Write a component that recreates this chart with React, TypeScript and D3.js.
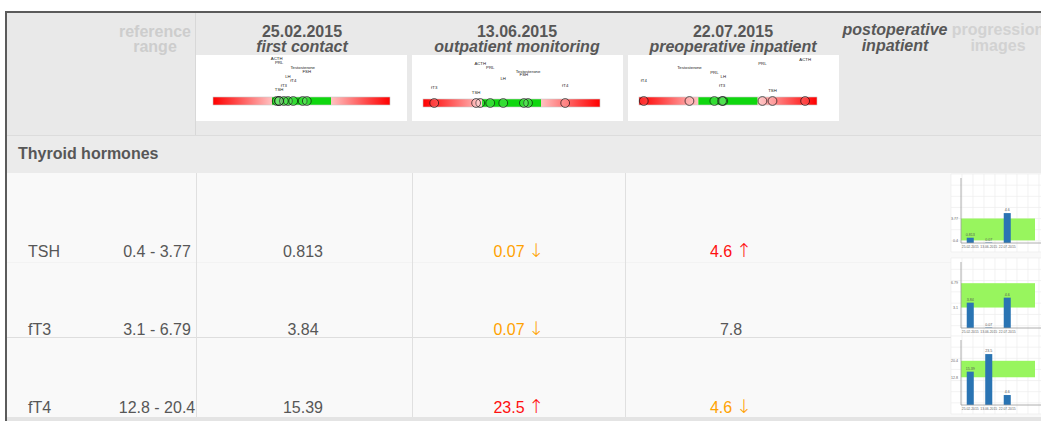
import * as d3 from "d3"

const FONT = "'Liberation Sans', Arial, Helvetica, sans-serif"
const TEXT = "#575757"

// table columns (visits)
const visitDates = ["25.02.2015", "13.06.2015", "22.07.2015", ""]
const visitTitles = [
  "first contact",
  "outpatient monitoring",
  "preoperative inpatient",
  "postoperative",
]

const groupTitle = "Thyroid hormones"
const analytes = ["TSH", "fT3", "fT4"]
const refLow = [0.4, 3.1, 12.8]
const refHigh = [3.77, 6.79, 20.4]
const refText = ["0.4 - 3.77", "3.1 - 6.79", "12.8 - 20.4"]

const resultText = [
  ["0.813", "0.07", "4.6"],
  ["3.84", "0.07", "7.8"],
  ["15.39", "23.5", "4.6"],
]
const resultFlag = [
  ["", "low", "high"],
  ["", "low", ""],
  ["", "high", "low"],
]

// values behind the small bar charts in "progression images"
const progressValues = [
  [0.813, 0.07, 4.6],
  [3.84, 0.07, 4.6],
  [15.39, 23.5, 4.6],
]
const progressMax = [10, 10, 30]

// header overview strips: z = (value - low) / (high - low), level = label row
const overviewFirst = [
  { name: "ACTH", z: 0.08, level: 0 },
  { name: "PRL", z: 0.12, level: 1 },
  { name: "Testosterone", z: 0.52, level: 2 },
  { name: "FSH", z: 0.59, level: 3 },
  { name: "LH", z: 0.27, level: 4 },
  { name: "fT4", z: 0.36, level: 5 },
  { name: "fT3", z: 0.2, level: 6 },
  { name: "TSH", z: 0.12, level: 7 },
]
const overviewSecond = [
  { name: "ACTH", z: -0.03, level: 1.1 },
  { name: "PRL", z: 0.14, level: 2 },
  { name: "Testosterone", z: 0.78, level: 3 },
  { name: "FSH", z: 0.71, level: 3.7 },
  { name: "LH", z: 0.36, level: 4.6 },
  { name: "fT4", z: 1.41, level: 6.1 },
  { name: "fT3", z: -0.81, level: 6.6 },
  { name: "TSH", z: -0.1, level: 7.6 },
]
const overviewThird = [
  { name: "ACTH", z: 1.8, level: 0.2 },
  { name: "PRL", z: 1.08, level: 1.1 },
  { name: "Testosterone", z: -0.15, level: 2 },
  { name: "PRL", z: 0.27, level: 3.1 },
  { name: "LH", z: 0.42, level: 4 },
  { name: "fT4", z: -0.92, level: 5 },
  { name: "fT3", z: 0.4, level: 6.1 },
  { name: "TSH", z: 1.25, level: 7.2 },
]
const overviews = [overviewFirst, overviewSecond, overviewThird]

type Marker = { name: string; z: number; level: number }

function OverviewStrip({
  boxX0,
  boxX1,
  barX0,
  barX1,
  barY,
  markers,
}: {
  boxX0: number
  boxX1: number
  barX0: number
  barX1: number
  barY: number
  markers: Marker[]
}) {
  const z = d3.scaleLinear().domain([-1, 2]).range([barX0, barX1])
  const labelY = d3.scaleLinear().domain([0, 7]).range([60, 91])
  const barH = 8
  const clampZ = (v: number) => Math.max(-0.93, Math.min(1.93, v))
  return (
    <g>
      <rect x={boxX0} y={55} width={boxX1 - boxX0} height={66} fill="#fff" />
      <rect x={z(-1)} y={barY} width={z(0) - z(-1)} height={barH} fill="url(#redLeft)" />
      <rect x={z(0)} y={barY} width={z(1) - z(0)} height={barH} fill="#0fd70f" />
      <rect x={z(1)} y={barY} width={z(2) - z(1)} height={barH} fill="url(#redRight)" />
      <rect
        x={z(-1)}
        y={barY}
        width={z(2) - z(-1)}
        height={barH}
        fill="none"
        stroke="#c9c9c9"
        strokeWidth={0.6}
      />
      {markers.map((m, i) => (
        <text
          key={"t" + i}
          x={z(m.z)}
          y={labelY(m.level)}
          fontSize={4.3}
          textAnchor="middle"
          fill="#222"
          fontFamily={FONT}
        >
          {m.name}
        </text>
      ))}
      {markers.map((m, i) => (
        <circle
          key={"c" + i}
          cx={z(clampZ(m.z))}
          cy={barY + barH / 2}
          r={4.4}
          fill="#fff"
          fillOpacity={0.15}
          stroke="#111"
          strokeOpacity={0.75}
          strokeWidth={0.9}
        />
      ))}
    </g>
  )
}

function Progression({ idx, top, bottom }: { idx: number; top: number; bottom: number }) {
  const x = d3
    .scaleBand<number>()
    .domain(d3.range(visitDates.length))
    .range([961, 1035])
    .paddingInner(0.62)
    .paddingOuter(0.31)
  const y = d3.scaleLinear().domain([0, progressMax[idx]]).range([bottom, top])
  const imgTop = top - 4
  const imgBottom = bottom + 9
  const gx = d3.scaleLinear().domain([0, 9]).range([951, 1050])
  const gy = d3.scaleLinear().domain([0, 7]).range([imgBottom, imgTop])
  const vals = progressValues[idx]
  return (
    <g>
      <rect x={951} y={imgTop} width={100} height={imgBottom - imgTop} fill="#fff" />
      {gx.ticks(9).map((t) => (
        <line key={"gx" + t} x1={gx(t)} x2={gx(t)} y1={imgTop} y2={imgBottom} stroke="#ececec" strokeWidth={0.7} />
      ))}
      {gy.ticks(7).map((t) => (
        <line key={"gy" + t} x1={951} x2={1050} y1={gy(t)} y2={gy(t)} stroke="#ececec" strokeWidth={0.7} />
      ))}
      <rect
        x={961}
        y={y(refHigh[idx])}
        width={1035 - 961}
        height={y(refLow[idx]) - y(refHigh[idx])}
        fill="#98f55e"
      />
      {vals.map((v, i) => (
        <rect
          key={"b" + i}
          x={x(i)!}
          y={y(v)}
          width={x.bandwidth()}
          height={bottom - y(v)}
          fill="#2a74b3"
        />
      ))}
      <line x1={961} x2={961} y1={top} y2={bottom} stroke="#999" strokeWidth={0.8} />
      <line x1={961} x2={1050} y1={bottom} y2={bottom} stroke="#999" strokeWidth={0.8} />
      {[refLow[idx], refHigh[idx]].map((t, i) => (
        <text
          key={"yt" + i}
          x={958}
          y={y(t) + 1.3}
          fontSize={3.6}
          textAnchor="end"
          fill="#666"
          fontFamily={FONT}
        >
          {t}
        </text>
      ))}
      {vals.map((v, i) => (
        <text
          key={"vl" + i}
          x={x(i)! + x.bandwidth() / 2}
          y={y(v) - 1.8}
          fontSize={3.6}
          textAnchor="middle"
          fill="#555"
          fontFamily={FONT}
        >
          {v}
        </text>
      ))}
      {visitDates
        .filter((d) => d !== "")
        .map((d, i) => (
          <text
            key={"xl" + i}
            x={x(i)! + x.bandwidth() / 2}
            y={bottom + 4.5}
            fontSize={3.4}
            textAnchor="middle"
            fill="#666"
            fontFamily={FONT}
          >
            {d}
          </text>
        ))}
    </g>
  )
}

export default function App() {
  const W = 1041
  const H = 421
  const headerCenters = [302, 517, 733, 895]
  const dataCenters = [303, 519, 731]
  const rowBase = [257, 335, 413]
  const boxes = [
    { boxX0: 196, boxX1: 407, barX0: 213, barX1: 390, barY: 97 },
    { boxX0: 412, boxX1: 623, barX0: 423, barX1: 600, barY: 99 },
    { boxX0: 628, boxX1: 839, barX0: 639, barX1: 817, barY: 97 },
  ]
  const plots = [
    { top: 178, bottom: 243 },
    { top: 262, bottom: 328 },
    { top: 340, bottom: 405 },
  ]
  const flagColor: Record<string, string> = { "": TEXT, low: "#ffa200", high: "#ff1010" }
  const flagArrow: Record<string, string> = { "": "", low: "\u2193", high: "\u2191" }

  return (
    <svg
      width={W}
      height={H}
      style={{ position: "absolute", left: 0, top: 0, background: "#fff" }}
      fontFamily={FONT}
    >
      <defs>
        <linearGradient id="redLeft" x1="0" x2="1" y1="0" y2="0">
          <stop offset="0" stopColor="#ff0000" />
          <stop offset="0.35" stopColor="#ff4040" />
          <stop offset="1" stopColor="#ffc2c2" />
        </linearGradient>
        <linearGradient id="redRight" x1="0" x2="1" y1="0" y2="0">
          <stop offset="0" stopColor="#ffc2c2" />
          <stop offset="0.65" stopColor="#ff4040" />
          <stop offset="1" stopColor="#ff0000" />
        </linearGradient>
      </defs>

      {/* header */}
      <rect x={7} y={13} width={W - 7} height={122} fill="#e9e9e9" />
      <line x1={195.5} x2={195.5} y1={13} y2={135} stroke="#d8d8d8" />
      <text x={155} y={37} textAnchor="middle" fontSize={16} fontWeight="bold" fill="#cdcdcd">
        reference
      </text>
      <text x={155} y={52} textAnchor="middle" fontSize={16} fontWeight="bold" fill="#cdcdcd">
        range
      </text>
      {visitDates.map((d, i) =>
        d ? (
          <text key={"d" + i} x={headerCenters[i]} y={37} textAnchor="middle" fontSize={16} fontWeight="bold" fill={TEXT}>
            {d}
          </text>
        ) : null,
      )}
      {visitTitles.map((t, i) => (
        <text
          key={"vt" + i}
          x={headerCenters[i]}
          y={i === 3 ? 35 : 52}
          textAnchor="middle"
          fontSize={16}
          fontWeight="bold"
          fontStyle="italic"
          fill={TEXT}
        >
          {t}
        </text>
      ))}
      <text x={headerCenters[3]} y={51} textAnchor="middle" fontSize={16} fontWeight="bold" fontStyle="italic" fill={TEXT}>
        inpatient
      </text>
      <text x={998} y={35} textAnchor="middle" fontSize={16} fontWeight="bold" fill="#d2d2d2">
        progression
      </text>
      <text x={998} y={51} textAnchor="middle" fontSize={16} fontWeight="bold" fill="#d2d2d2">
        images
      </text>
      {boxes.map((b, i) => (
        <OverviewStrip key={"ov" + i} {...b} markers={overviews[i]} />
      ))}

      {/* group row */}
      <rect x={7} y={135} width={W - 7} height={38} fill="#ebebeb" />
      <line x1={7} x2={W} y1={135.5} y2={135.5} stroke="#dcdcdc" />
      <text x={18} y={159} fontSize={16} fontWeight="bold" fill={TEXT}>
        {groupTitle}
      </text>

      {/* data rows */}
      <rect x={7} y={173} width={W - 7} height={244} fill="#f9f9f9" />
      <line x1={7} x2={W} y1={262.5} y2={262.5} stroke="#f3f3f3" />
      <line x1={7} x2={W} y1={337.5} y2={337.5} stroke="#dedede" />
      {[196, 412, 625].map((x) => (
        <line key={"v" + x} x1={x + 0.5} x2={x + 0.5} y1={173} y2={417} stroke="#e0e0e0" />
      ))}
      <rect x={7} y={417} width={W - 7} height={4} fill="#e4e4e4" />

      {analytes.map((a, r) => (
        <g key={a}>
          <text x={28} y={rowBase[r]} fontSize={16} fill={TEXT}>
            {a}
          </text>
          <text x={157} y={rowBase[r]} fontSize={16} fill={TEXT} textAnchor="middle">
            {refText[r]}
          </text>
          {resultText[r].map((v, c) => {
            const flag = resultFlag[r][c]
            return (
              <text
                key={"r" + c}
                x={dataCenters[c]}
                y={rowBase[r]}
                fontSize={16}
                textAnchor="middle"
                fill={flagColor[flag]}
              >
                {v}
                {flag ? (
                  <tspan dx={4} fontSize={19} fontFamily="'DejaVu Sans', sans-serif" fontWeight={200}>
                    {flagArrow[flag]}
                  </tspan>
                ) : null}
              </text>
            )
          })}
        </g>
      ))}

      {plots.map((p, i) => (
        <Progression key={"p" + i} idx={i} top={p.top} bottom={p.bottom} />
      ))}

      {/* outer frame */}
      <line x1={5} x2={W} y1={12} y2={12} stroke="#5b5b5b" strokeWidth={2} />
      <line x1={6} x2={6} y1={11} y2={H} stroke="#5b5b5b" strokeWidth={2} />
    </svg>
  )
}
